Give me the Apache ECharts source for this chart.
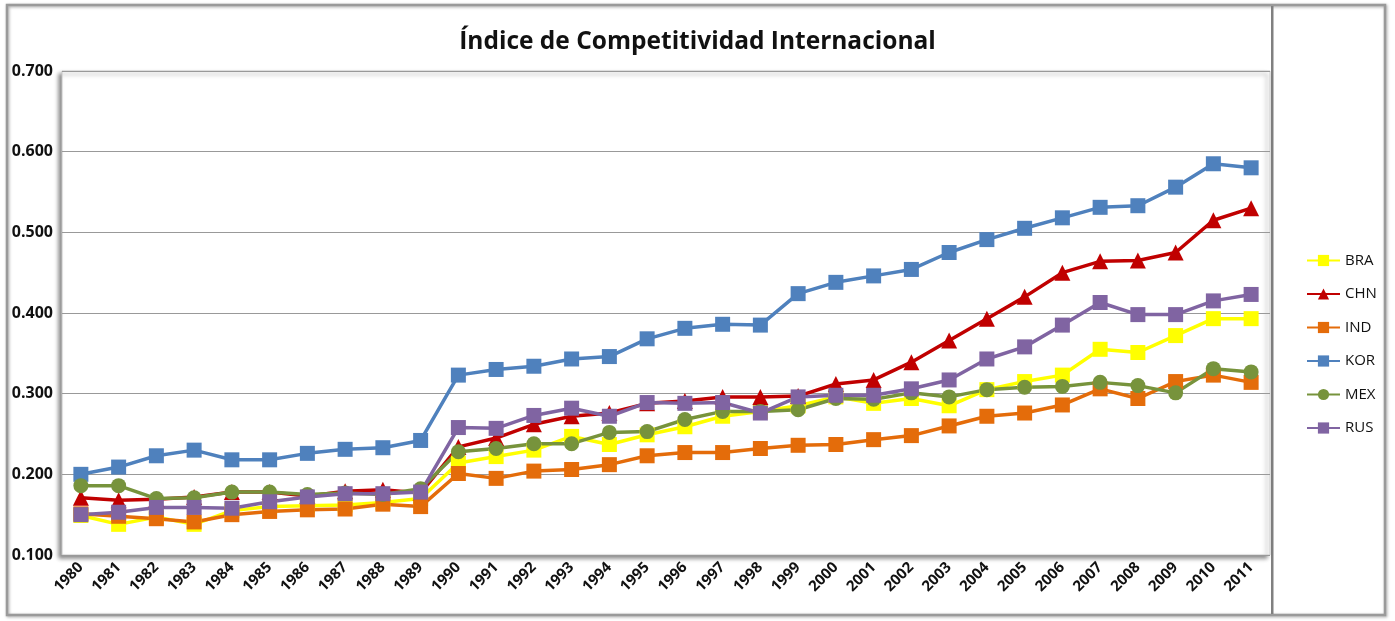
<!DOCTYPE html>
<html>
<head>
<meta charset="utf-8">
<script src="https://cdn.jsdelivr.net/npm/echarts@6/dist/echarts.min.js"></script>
<style>
  html, body { margin: 0; padding: 0; background: #fff; }
  #chart { width: 1395px; height: 621px; }
</style>
</head>
<body>
<div id="chart"></div>
<script>
// años del eje X
var years = ['1980','1981','1982','1983','1984','1985','1986','1987','1988','1989',
  '1990','1991','1992','1993','1994','1995','1996','1997','1998','1999',
  '2000','2001','2002','2003','2004','2005','2006','2007','2008','2009','2010','2011'];

var BRA = [0.149,0.138,0.147,0.138,0.155,0.160,0.161,0.162,0.165,0.170,
  0.214,0.222,0.230,0.247,0.237,0.249,0.259,0.272,0.278,0.285,
  0.296,0.288,0.294,0.285,0.305,0.315,0.323,0.355,0.351,0.372,0.393,0.393];
var CHN = [0.171,0.168,0.169,0.172,0.178,0.178,0.173,0.179,0.181,0.177,
  0.234,0.245,0.262,0.272,0.276,0.288,0.291,0.296,0.296,0.297,
  0.312,0.317,0.339,0.366,0.393,0.420,0.450,0.464,0.465,0.475,0.515,0.530];
var IND = [0.151,0.148,0.145,0.141,0.150,0.154,0.156,0.157,0.163,0.160,
  0.201,0.195,0.204,0.206,0.212,0.223,0.227,0.227,0.232,0.236,
  0.237,0.243,0.248,0.260,0.272,0.276,0.286,0.306,0.294,0.315,0.323,0.314];
var KOR = [0.200,0.209,0.223,0.230,0.218,0.218,0.226,0.231,0.233,0.242,
  0.323,0.330,0.334,0.343,0.346,0.368,0.381,0.386,0.385,0.424,
  0.438,0.446,0.454,0.475,0.491,0.505,0.518,0.531,0.533,0.556,0.585,0.580];
var MEX = [0.186,0.186,0.170,0.171,0.178,0.178,0.175,0.177,0.175,0.182,
  0.228,0.232,0.238,0.238,0.252,0.253,0.268,0.278,0.278,0.280,
  0.294,0.293,0.301,0.296,0.305,0.308,0.309,0.314,0.310,0.301,0.331,0.327];
var RUS = [0.150,0.153,0.159,0.159,0.158,0.166,0.172,0.176,0.176,0.178,
  0.258,0.257,0.273,0.282,0.272,0.289,0.288,0.289,0.276,0.296,
  0.298,0.298,0.306,0.317,0.343,0.358,0.385,0.413,0.398,0.398,0.415,0.423];

function serie(name, data, color, symbol) {
  return {
    name: name,
    type: 'line',
    data: data,
    symbol: symbol,
    symbolSize: symbol === 'triangle' ? 16 : 15,
    showAllSymbol: true,
    lineStyle: { width: 3.5, color: color },
    itemStyle: { color: color },
    emphasis: { disabled: true },
    animation: false
  };
}

var chart = echarts.init(document.getElementById('chart'));
var option = {
  backgroundColor: '#fff',
  animation: false,
  title: {
    text: 'Índice de Competitividad Internacional',
    left: 'center',
    top: 25,
    textStyle: { fontFamily: 'Open Sans', fontWeight: 'bold', fontSize: 24.5, color: '#111' }
  },
  graphic: [{
    type: 'rect',
    shape: { x: 7, y: 5, width: 1378, height: 610 },
    style: { fill: 'none', stroke: '#9a9a9a', lineWidth: 2.5,
      shadowColor: 'rgba(0,0,0,0.35)', shadowBlur: 3, shadowOffsetX: 1, shadowOffsetY: 1 },
    z: -10
  }, {
    type: 'rect',
    shape: { x: 1271, y: 6, width: 2.5, height: 608 },
    style: { fill: '#808080' },
    z: -10
  }],
  legend: {
    orient: 'vertical',
    left: 1301,
    top: 248,
    itemWidth: 33,
    itemHeight: 14,
    itemGap: 18.5,
    textStyle: { fontFamily: 'Open Sans', fontSize: 15, color: '#111' },
    data: ['BRA','CHN','IND','KOR','MEX','RUS']
  },
  grid: {
    left: 62, top: 71, right: 125, bottom: 66,
    show: true,
    backgroundColor: '#fff',
    borderColor: '#c8c8c8',
    borderWidth: 1,
    shadowColor: 'rgba(0,0,0,0.45)',
    shadowBlur: 4,
    shadowOffsetX: -3,
    shadowOffsetY: 3
  },
  xAxis: {
    type: 'category',
    data: years,
    boundaryGap: true,
    axisLine: { show: false },
    axisTick: { show: false },
    axisLabel: {
      rotate: 45, margin: 10, interval: 0,
      fontFamily: 'Open Sans', fontWeight: 'bold', fontSize: 15, color: '#111'
    }
  },
  yAxis: {
    type: 'value',
    min: 0.1, max: 0.7, interval: 0.1,
    axisLine: { show: false },
    axisTick: { show: false },
    splitLine: { lineStyle: { color: '#999', width: 1 } },
    axisLabel: {
      margin: 9,
      formatter: function (v) { return v.toFixed(3); },
      fontFamily: 'Open Sans', fontWeight: 'bold', fontSize: 16, color: '#111'
    }
  },
  series: [
    serie('BRA', BRA, '#FFFF00', 'rect'),
    serie('CHN', CHN, '#C00000', 'triangle'),
    serie('IND', IND, '#E46C0A', 'rect'),
    serie('KOR', KOR, '#4F81BD', 'rect'),
    serie('MEX', MEX, '#77933C', 'circle'),
    serie('RUS', RUS, '#8064A2', 'rect')
  ]
};
chart.setOption(option);
</script>
</body>
</html>
